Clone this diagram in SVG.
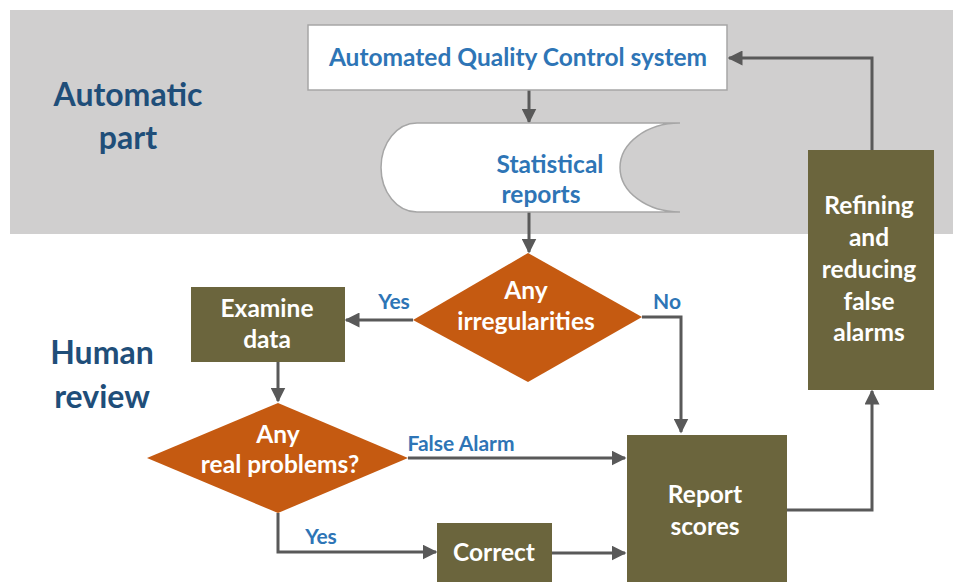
<svg xmlns="http://www.w3.org/2000/svg" width="953" height="582" viewBox="0 0 953 582">
  <defs>
    <marker id="arrow" viewBox="0 0 10 10" refX="9" refY="5" markerWidth="5" markerHeight="5" orient="auto" markerUnits="strokeWidth">
      <path d="M0,0 L10,5 L0,10 z" fill="#595959"/>
    </marker>
    <style>
      .txt { font-family: Lato, "Liberation Sans", sans-serif; font-weight: 700; text-anchor: middle; font-size: 24.5px; }
      .blue { fill: #2e75b6; }
      .white { fill: #ffffff; }
      .section { fill: #1f4e79; font-size: 32px; }
      .box { fill: #6b653d; }
      .diamond { fill: #c55a11; }
      .conn { fill: none; stroke: #595959; stroke-width: 3; marker-end: url(#arrow); }
      .lbl { font-family: Lato, "Liberation Sans", sans-serif; font-weight: 700; fill: #2e75b6; font-size: 21px; text-anchor: middle; }
    </style>
  </defs>

  <rect width="953" height="582" fill="#ffffff"/>
  <!-- automatic zone band -->
  <rect x="10" y="10" width="943" height="224" fill="#d0cfcf"/>

  <!-- section titles -->
  <g id="title-automatic" class="txt section">
    <text x="128" y="106">Automatic</text>
    <text x="128" y="149">part</text>
  </g>
  <g id="title-human" class="txt section">
    <text x="102" y="364">Human</text>
    <text x="102" y="408">review</text>
  </g>

  <!-- connectors -->
  <g id="connectors">
    <path class="conn" d="M529,90 V122"/>
    <path class="conn" d="M529,212 V252"/>
    <path class="conn" d="M413,320 H346"/>
    <path class="conn" d="M642,317 H681 V432"/>
    <path class="conn" d="M278,362 V401"/>
    <path class="conn" d="M408,458 H625"/>
    <path class="conn" d="M278,513 V552 H436"/>
    <path class="conn" d="M552,553 H625"/>
    <path class="conn" d="M787,510 H872 V391"/>
    <path class="conn" d="M872,150 V58 H729"/>
  </g>

  <!-- edge labels -->
  <g id="edge-labels">
    <text class="lbl" x="394" y="309">Yes</text>
    <text class="lbl" x="667" y="309">No</text>
    <text class="lbl" x="461" y="451">False Alarm</text>
    <text class="lbl" x="321" y="544">Yes</text>
  </g>

  <g id="node-aqc">
    <rect x="308" y="25" width="419" height="65" fill="#ffffff" stroke="#a6a6a6" stroke-width="1.5"/>
    <text class="txt blue" x="518" y="66">Automated Quality Control system</text>
  </g>

  <g id="node-reports">
    <path d="M417,123 H680 A60,44.5 0 0 0 620,167.5 A60,44.5 0 0 0 680,212 H417 A36,44.5 0 0 1 417,123 Z" fill="#ffffff" stroke="#a6a6a6" stroke-width="1.5"/>
    <text class="txt blue" x="550" y="173">Statistical</text>
    <text class="txt blue" x="541" y="203">reports</text>
  </g>

  <g id="node-irregularities">
    <polygon class="diamond" points="528,253 642,317 528,382 413,320"/>
    <text class="txt white" x="526" y="299">Any</text>
    <text class="txt white" x="526" y="330">irregularities</text>
  </g>

  <g id="node-examine">
    <rect class="box" x="191" y="287" width="154" height="75"/>
    <text class="txt white" x="267" y="317">Examine</text>
    <text class="txt white" x="267" y="348">data</text>
  </g>

  <g id="node-problems">
    <polygon class="diamond" points="278,403 408,458 278,513 147,458"/>
    <text class="txt white" x="278" y="443">Any</text>
    <text class="txt white" x="280" y="473">real problems?</text>
  </g>

  <g id="node-correct">
    <rect class="box" x="437" y="523" width="115" height="70"/>
    <text class="txt white" x="494" y="561">Correct</text>
  </g>

  <g id="node-report">
    <rect class="box" x="627" y="435" width="160" height="160"/>
    <text class="txt white" x="705" y="503">Report</text>
    <text class="txt white" x="705" y="535">scores</text>
  </g>

  <g id="node-refining">
    <rect class="box" x="808" y="150" width="126" height="240"/>
    <text class="txt white" x="869" y="214">Refining</text>
    <text class="txt white" x="869" y="246">and</text>
    <text class="txt white" x="869" y="278">reducing</text>
    <text class="txt white" x="869" y="310">false</text>
    <text class="txt white" x="869" y="341">alarms</text>
  </g>
</svg>
